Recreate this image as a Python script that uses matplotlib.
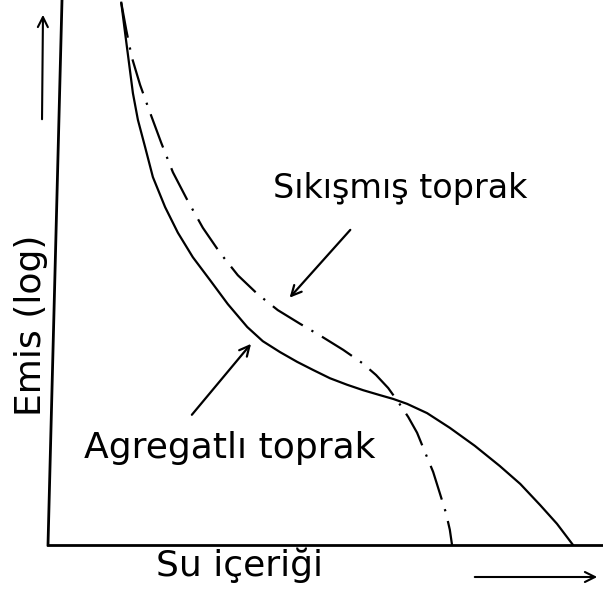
import matplotlib
matplotlib.use("Agg")
import matplotlib.pyplot as plt

# soil water retention sketch, arbitrary units (0-10 on both axes)
agregatli_x = [1.32, 1.39, 1.46, 1.53, 1.62, 1.75, 1.89, 2.11, 2.34, 2.61, 2.92, 3.24, 3.59, 3.87, 4.18, 4.49,
               4.78, 5.08, 5.39, 5.68, 5.98, 6.22, 6.47, 6.83, 7.24, 7.69, 8.14, 8.51, 8.87, 9.17, 9.46]
agregatli_y = [9.95, 9.39, 8.84, 8.29, 7.80, 7.30, 6.75, 6.20, 5.73, 5.28, 4.86, 4.42, 4.00, 3.74, 3.54, 3.36,
               3.21, 3.06, 2.94, 2.84, 2.75, 2.68, 2.59, 2.42, 2.15, 1.82, 1.45, 1.12, 0.73, 0.39, 0.00]

sikismis_x = [1.32, 1.41, 1.51, 1.66, 1.84, 2.04, 2.25, 2.51, 2.79, 3.10, 3.42, 3.77, 4.14, 4.54, 4.94, 5.32,
              5.66, 5.91, 6.13, 6.32, 6.49, 6.65, 6.79, 6.94, 7.06, 7.17, 7.24, 7.28]
sikismis_y = [9.95, 9.45, 8.95, 8.44, 7.93, 7.38, 6.84, 6.33, 5.82, 5.36, 4.95, 4.61, 4.31, 4.06, 3.82, 3.58,
              3.34, 3.12, 2.88, 2.61, 2.35, 2.06, 1.71, 1.34, 0.95, 0.59, 0.28, 0.00]

label_sikismis = "Sıkışmış toprak"
label_agregatli = "Agregatlı toprak"
xlabel = "Su içeriği"
ylabel = "Emis (log)"

W, H = 603, 597
fig = plt.figure(figsize=(W / 100, H / 100), dpi=100)
ax = fig.add_axes([48 / W, (H - 545) / H, (W - 48) / W, 545 / H])
ax.set_xlim(0, 10)
ax.set_ylim(0, 10)
ax.set_xticks([])
ax.set_yticks([])
for s in ["top", "right", "left"]:
    ax.spines[s].set_visible(False)
ax.spines["bottom"].set_linewidth(2)

# hand drawn y axis leans a little to the right
ax.plot([0, 14 / 555], [0, 1], transform=ax.transAxes, color="black", lw=2, clip_on=False)

ax.plot(agregatli_x, agregatli_y, color="black", lw=1.6)
ax.plot(sikismis_x, sikismis_y, color="black", lw=1.6, linestyle=(0, (16, 4.5, 1, 4.5)))

arrow = dict(arrowstyle="->", color="black", lw=1.6, mutation_scale=18)
ax.annotate("", xy=(4.32, 4.50), xytext=(5.48, 5.82), arrowprops=arrow)
ax.annotate("", xy=(3.69, 3.73), xytext=(2.56, 2.35), arrowprops=arrow)

ax.text(6.34, 6.55, label_sikismis, fontsize=24, ha="center", va="center")
ax.text(3.28, 1.78, label_agregatli, fontsize=26, ha="center", va="center")

def fpix(x, y):
    return x / W, 1 - y / H

fig.text(*fpix(240, 565), xlabel, fontsize=26, ha="center", va="center")
fig.text(*fpix(31, 325), ylabel, fontsize=26, ha="center", va="center", rotation=90)

# direction arrows next to axis labels
fig.add_artist(matplotlib.patches.FancyArrowPatch(fpix(472, 577), fpix(600, 577), transform=fig.transFigure,
                                                 arrowstyle="->", color="black", lw=1.5, mutation_scale=18))
fig.add_artist(matplotlib.patches.FancyArrowPatch(fpix(42, 122), fpix(43, 12), transform=fig.transFigure,
                                                 arrowstyle="->", color="black", lw=1.5, mutation_scale=18))

fig.savefig("out.png", dpi=100)
